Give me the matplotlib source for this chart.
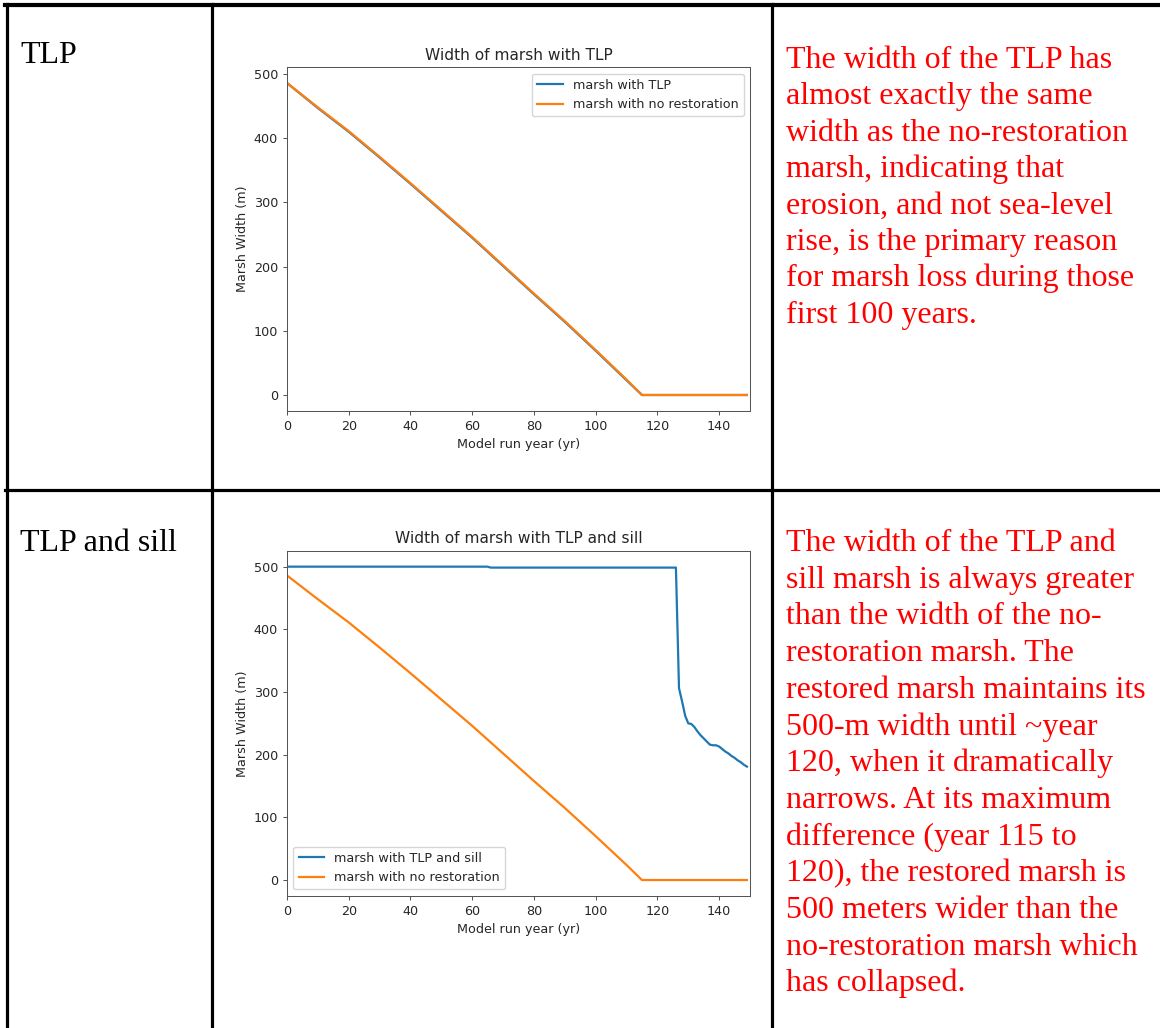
import matplotlib
matplotlib.use('Agg')
from matplotlib import pyplot as plt
from matplotlib.lines import Line2D

W, H = 1160, 1028

# marsh width with no restoration
years_none = [0, 10, 20, 30, 40, 50, 60, 70, 80, 90, 100, 110, 115, 149]
width_none = [486, 448, 411, 371, 330, 288, 246, 202, 158, 115, 70, 24, 0, 0]

# marsh with TLP : almost the same line
years_tlp = [0, 10, 20, 30, 40, 50, 60, 70, 80, 90, 100, 110, 115, 149]
width_tlp = [486, 447, 410, 370, 329, 287, 245, 201, 157, 114, 69, 23, 0, 0]

# marsh with TLP and sill
years_sill = [0, 65, 66, 126, 127, 128, 129, 130, 131, 132, 133, 134, 135, 136,
              137, 138, 139, 140, 141, 142, 143, 144, 145, 146, 147, 148, 149]
width_sill = [500, 500, 498.5, 498.5, 306, 285, 262, 250, 249, 244, 237, 231, 226, 221,
              216, 215, 215, 213, 209, 205, 202, 198, 195, 191, 188, 184, 181]

row_labels = ['TLP', 'TLP and sill']
titles = ['Width of marsh with TLP', 'Width of marsh with TLP and sill']
legend_tlp = ['marsh with TLP', 'marsh with no restoration']
legend_sill = ['marsh with TLP and sill', 'marsh with no restoration']

notes_tlp = ['The width of the TLP has',
             'almost exactly the same',
             'width as the no-restoration',
             'marsh, indicating that',
             'erosion, and not sea-level',
             'rise, is the primary reason',
             'for marsh loss during those',
             'first 100 years.']
notes_sill = ['The width of the TLP and',
              'sill marsh is always greater',
              'than the width of the no-',
              'restoration marsh. The',
              'restored marsh maintains its',
              '500-m width until ~year',
              '120, when it dramatically',
              'narrows. At its maximum',
              'difference (year 115 to',
              '120), the restored marsh is',
              '500 meters wider than the',
              'no-restoration marsh which',
              'has collapsed.']


def box(l, t, r, b):
    return [l / W, 1 - b / H, (r - l) / W, (b - t) / H]


fig = plt.figure(figsize=(W / 100, H / 100), dpi=100)
fig.patch.set_facecolor('white')

s = 0.92  # the charts were pasted at a reduced size
ink = '#262626'


def style(ax, title):
    ax.set_title(title, fontsize=12 * s, pad=6 * s, color=ink)
    ax.set_xlabel('Model run year (yr)', fontsize=10 * s, labelpad=4 * s, color=ink)
    ax.set_ylabel('Marsh Width (m)', fontsize=10 * s, labelpad=4 * s, color=ink)
    ax.tick_params(labelsize=10 * s, length=3.5 * s, width=0.8 * s, pad=3.5 * s,
                   labelcolor=ink, color='#555555')
    for sp in ax.spines.values():
        sp.set_linewidth(0.8 * s)
        sp.set_color('#555555')
    ax.set_xlim(0, 150)


ax1 = fig.add_axes(box(287, 67.4, 750, 410.6))
ax1.plot(years_tlp, width_tlp, color='C0', lw=1.6, label=legend_tlp[0])
ax1.plot(years_none, width_none, color='C1', lw=1.6, label=legend_tlp[1])
style(ax1, titles[0])
leg1 = ax1.legend(loc='upper right', fontsize=10 * s)

ax2 = fig.add_axes(box(287, 551, 750, 895.7))
ax2.plot(years_sill, width_sill, color='C0', lw=1.6, label=legend_sill[0])
ax2.plot(years_none, width_none, color='C1', lw=1.6, label=legend_sill[1])
style(ax2, titles[1])
leg2 = ax2.legend(loc='lower left', fontsize=10 * s)
for lg in (leg1, leg2):
    for t in lg.get_texts():
        t.set_color(ink)

# table grid
def hline(y, x0=5, x1=W, lw=2.3):
    fig.add_artist(Line2D([x0 / W, x1 / W], [1 - y / H, 1 - y / H], color='black', lw=lw))


def vline(x, y0=4, y1=H, lw=2.3):
    fig.add_artist(Line2D([x / W, x / W], [1 - y0 / H, 1 - y1 / H], color='black', lw=lw))


hline(5, lw=3)
hline(490)
for x in [7, 212, 772]:
    vline(x)

# row labels and notes
serif = 'Liberation Serif'
fig.text(20 / W, 1 - 63 / H, row_labels[0], fontsize=23, family=serif, va='baseline')
fig.text(20 / W, 1 - 551 / H, row_labels[1], fontsize=23, family=serif, va='baseline')

for i, line in enumerate(notes_tlp):
    fig.text(786 / W, 1 - (68 + 36.4 * i) / H, line, fontsize=23, family=serif,
             color='red', va='baseline')
for i, line in enumerate(notes_sill):
    fig.text(786 / W, 1 - (551 + 36.7 * i) / H, line, fontsize=23, family=serif,
             color='red', va='baseline')

fig.savefig('out.png', dpi=100)
